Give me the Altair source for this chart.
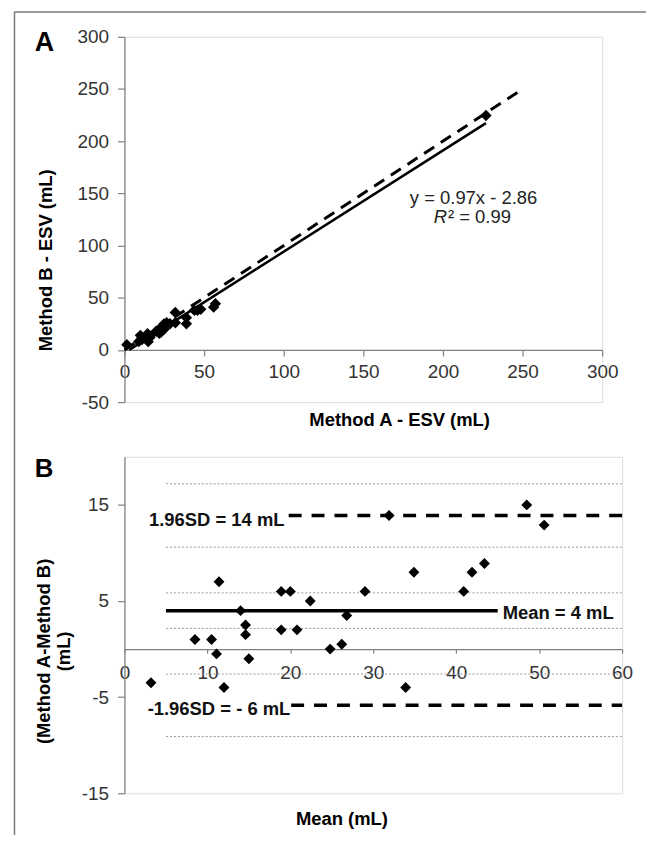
import altair as alt
import pandas as pd

FONT = "Liberation Sans"

# ---------------- Panel A data (Method A vs Method B ESV, mL) ----------------
a_method_a = [1.5, 9.0, 11.0, 14.9, 10.9, 10.0, 16.0, 15.9, 15.4, 14.5, 21.9, 23.0, 19.9, 21.8,
              24.9, 24.8, 26.5, 28.6, 32.0, 38.9, 38.9, 31.9, 43.9, 45.9, 47.9, 56.0, 57.1, 227.0]
a_method_b = [5.0, 8.0, 10.0, 7.9, 11.4, 14.0, 12.0, 13.4, 13.9, 15.5, 15.9, 17.0, 17.9, 19.8,
              19.9, 24.8, 26.0, 25.1, 26.0, 25.0, 30.9, 35.9, 37.9, 37.9, 39.0, 41.0, 44.2, 224.6]
identity_x = [0, 250]
identity_y = [0, 250]
fit_x = [3, 227]
fit_y = [0.05, 217.3]
a_ticks_x = [0, 50, 100, 150, 200, 250, 300]
a_ticks_y = [-50, 0, 50, 100, 150, 200, 250, 300]

# ---------------- Panel B data (Bland-Altman) ----------------
b_mean = [3.2, 8.5, 10.5, 11.4, 11.1, 12.0, 14.0, 14.6, 14.6, 15.0, 18.9, 20.0, 18.9, 20.8,
          22.4, 24.8, 26.2, 26.8, 29.0, 31.9, 34.9, 33.9, 40.9, 41.9, 43.4, 48.5, 50.6]
b_diff = [-3.5, 1.0, 1.0, 7.0, -0.5, -4.0, 4.0, 2.5, 1.5, -1.0, 6.0, 6.0, 2.0, 2.0,
          5.0, 0.0, 0.5, 3.5, 6.0, 13.9, 8.0, -4.0, 6.0, 8.0, 8.9, 15.0, 12.9]
ci_levels = [17.2, 10.6, 5.85, 2.15, -2.6, -9.1]
ci_start, ci_end = 5, 60
mean_diff = 4.0
mean_start, mean_end = 5, 45
upper_loa = 13.9
lower_loa = -5.85
loa_start = [19.8, 20.1]
loa_end = 60
b_ticks_x = [0, 10, 20, 30, 40, 50, 60]
b_ticks_y = [-15, -5, 5, 15]

AX_COLOR = "#808080"
LBL_COLOR = "#333333"
LBL_SIZE = 19


def axis(**kw):
    base = dict(grid=False, domainColor=AX_COLOR, tickColor=AX_COLOR, domainWidth=1.2,
                tickWidth=1.2, labelFont=FONT, labelFontSize=LBL_SIZE, labelColor=LBL_COLOR,
                titleFont=FONT, titleFontSize=18.5, titleFontWeight="bold", titleColor="black",
                labelFlush=False, labelOverlap=False, labelBound=False,
                labelExpr="'' + datum.value",
                titleAlign="center", titleBaseline="alphabetic")
    base.update(kw)
    return alt.Axis(**base)


# ================= Panel A =================
WA, HA = 480, 367
xA = alt.X("x:Q", scale=alt.Scale(domain=[0, 300], nice=False, zero=False),
           axis=axis(values=a_ticks_x, offset=-52.43, tickSize=6, labelPadding=7,
                     title="Method A - ESV (mL)", titleX=276, titleY=76))
yA = alt.Y("y:Q", scale=alt.Scale(domain=[-50, 300], nice=False, zero=False),
           axis=axis(values=a_ticks_y, tickSize=7, labelPadding=9,
                     title="Method B - ESV (mL)", titleAngle=270, titleX=-73.5, titleY=224))

one = pd.DataFrame({"k": [0]})
frame_v = alt.Chart(one).mark_rule(color="#7a7a7a", strokeWidth=1.5).encode(
    x=alt.value(-110.5), y=alt.value(-25), y2=alt.value(802))
frame_h = alt.Chart(one).mark_rule(color="#7a7a7a", strokeWidth=1.5).encode(
    x=alt.value(-110.5), x2=alt.value(524), y=alt.value(-25))

ident = alt.Chart(pd.DataFrame({"x": identity_x, "y": identity_y})).mark_line(
    color="black", strokeWidth=3, strokeDash=[12, 8]).encode(x=xA, y=yA)
fit = alt.Chart(pd.DataFrame({"x": fit_x, "y": fit_y})).mark_line(
    color="black", strokeWidth=2.5).encode(x=xA, y=yA)
ptsA = alt.Chart(pd.DataFrame({"x": a_method_a, "y": a_method_b})).mark_point(
    shape="diamond", filled=True, size=130, color="black", opacity=1).encode(x=xA, y=yA)

eq1 = alt.Chart(pd.DataFrame({"x": [219.2], "y": [146.0]})).mark_text(
    text="y = 0.97x - 2.86", font=FONT, fontSize=18.5, color="#222222",
    align="center", baseline="middle").encode(x=xA, y=yA)
eqR = alt.Chart(pd.DataFrame({"x": [202.5], "y": [127.0]})).mark_text(
    text="R", font=FONT, fontSize=18.5, fontStyle="italic", color="#222222",
    align="right", baseline="middle").encode(x=xA, y=yA)
eqR2 = alt.Chart(pd.DataFrame({"x": [202.5], "y": [127.0]})).mark_text(
    text="² = 0.99", font=FONT, fontSize=18.5, color="#222222",
    align="left", baseline="middle", dx=1).encode(x=xA, y=yA)
labA = alt.Chart(one).mark_text(text="A", font=FONT, fontSize=27, fontWeight="bold",
                                color="black", align="left", baseline="alphabetic").encode(
    x=alt.value(-90), y=alt.value(14))

panelA = alt.layer(frame_v, frame_h, ident, fit, ptsA, eq1, eqR, eqR2, labA).properties(
    width=WA, height=HA)

# ================= Panel B =================
WB, HB = 500, 338
xB = alt.X("x:Q", scale=alt.Scale(domain=[0, 60], nice=False, zero=False),
           axis=axis(values=b_ticks_x, offset=-144.86, tickSize=4, labelPadding=11,
                     title="Mean (mL)", titleX=218, titleY=176))
yB = alt.Y("y:Q", scale=alt.Scale(domain=[-15, 20], nice=False, zero=False),
           axis=axis(values=b_ticks_y, tickSize=7, labelPadding=9,
                     title=["(Method A-Method B)", "(mL)"], titleAngle=270,
                     titleX=-75.4, titleY=195, titleLineHeight=20))

ci = alt.Chart(pd.DataFrame({"x": [ci_start] * len(ci_levels), "x2": [ci_end] * len(ci_levels),
                             "y": ci_levels})).mark_rule(
    color="#9a9a9a", strokeWidth=1, strokeDash=[2, 2]).encode(x=xB, x2="x2:Q", y=yB)
loa = alt.Chart(pd.DataFrame({"x": loa_start, "x2": [loa_end, loa_end],
                              "y": [upper_loa, lower_loa]})).mark_rule(
    color="black", strokeWidth=3.5, strokeDash=[13, 10]).encode(x=xB, x2="x2:Q", y=yB)
meanl = alt.Chart(pd.DataFrame({"x": [mean_start], "x2": [mean_end], "y": [mean_diff]})).mark_rule(
    color="black", strokeWidth=3.5).encode(x=xB, x2="x2:Q", y=yB)
ptsB = alt.Chart(pd.DataFrame({"x": b_mean, "y": b_diff})).mark_point(
    shape="diamond", filled=True, size=120, color="black", opacity=1).encode(x=xB, y=yB)

t_up = alt.Chart(pd.DataFrame({"x": [19.3], "y": [upper_loa]})).mark_text(
    text="1.96SD = 14 mL", font=FONT, fontSize=18.5, fontWeight="bold", color="#111111",
    align="right", baseline="middle", dy=5).encode(x=xB, y=yB)
t_lo = alt.Chart(pd.DataFrame({"x": [20.0], "y": [lower_loa]})).mark_text(
    text="-1.96SD = - 6 mL", font=FONT, fontSize=18.5, fontWeight="bold", color="#111111",
    align="right", baseline="middle", dy=4).encode(x=xB, y=yB)
t_mean = alt.Chart(pd.DataFrame({"x": [45.6], "y": [mean_diff]})).mark_text(
    text="Mean = 4 mL", font=FONT, fontSize=18.5, fontWeight="bold", color="#111111",
    align="left", baseline="middle", dy=2).encode(x=xB, y=yB)
labB = alt.Chart(one).mark_text(text="B", font=FONT, fontSize=26, fontWeight="bold",
                                color="black", align="left", baseline="alphabetic").encode(
    x=alt.value(-90), y=alt.value(20))

panelB = alt.layer(ci, loa, meanl, ptsB, t_up, t_lo, t_mean, labB).properties(
    width=WB, height=HB)

chart = alt.vconcat(panelA, panelB, spacing=55, bounds="flush").properties(
    padding={"left": 5, "top": 0, "right": 0, "bottom": 0}
).configure_view(stroke=None).configure(font=FONT).configure_axis(
    labelFontSize=LBL_SIZE, labelFont=FONT)

chart.save("out.html", embed_options={"renderer": "svg", "actions": False})
